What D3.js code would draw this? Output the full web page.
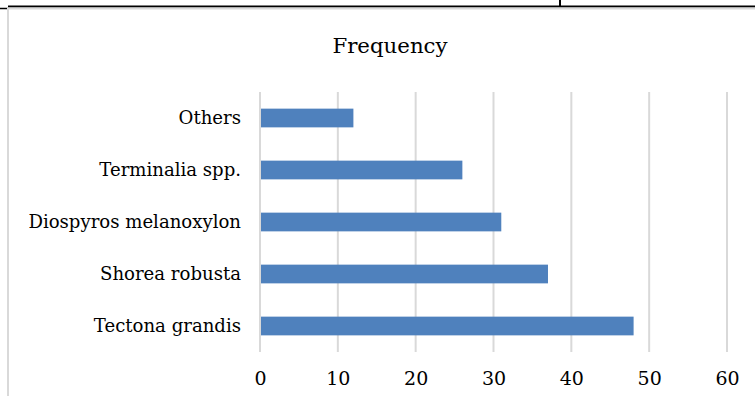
<!DOCTYPE html>
<html>
<head>
<meta charset="utf-8">
<script src="https://cdn.jsdelivr.net/npm/d3@7"></script>
<style>
  html, body { margin: 0; padding: 0; background: #fff; }
  svg { display: block; }
  text { font-family: "DejaVu Serif", "Liberation Serif", serif; fill: #000; }
</style>
</head>
<body>
<svg id="chart" width="755" height="396"></svg>
<script>
// Species counts
const categories = ["Tectona grandis", "Shorea robusta", "Diospyros melanoxylon", "Terminalia spp.", "Others"];
const frequency = [48, 37, 31, 26, 12];
const xTicks = [0, 10, 20, 30, 40, 50, 60];
const title = "Frequency";

const svg = d3.select("#chart");
const W = 755, H = 396;
const FONT = '"DejaVu Serif", "Liberation Serif", serif';

// Surrounding page/table lines
svg.append("line").attr("x1", 8).attr("x2", W).attr("y1", 6.5).attr("y2", 6.5)
  .attr("stroke", "#000").attr("stroke-width", 2);
svg.append("line").attr("x1", 560).attr("x2", 560).attr("y1", 0).attr("y2", 6)
  .attr("stroke", "#000").attr("stroke-width", 2);
svg.append("line").attr("x1", 0).attr("x2", 8).attr("y1", 8.5).attr("y2", 8.5)
  .attr("stroke", "#000").attr("stroke-width", 1.5);

// Chart frame
svg.append("path").attr("d", `M8,${H} V8.5 H${W}`)
  .attr("fill", "none").attr("stroke", "#d9d9d9").attr("stroke-width", 2);

const plot = { left: 260, right: 727, top: 92, bottom: 352 };

const x = d3.scaleLinear().domain([0, 60]).range([plot.left, plot.right]);
const y = d3.scaleBand().domain(categories).range([plot.bottom, plot.top]).paddingInner(0.64).paddingOuter(0.32);

// Vertical gridlines
svg.append("g")
  .selectAll("line").data(xTicks).join("line")
  .attr("x1", d => x(d)).attr("x2", d => x(d))
  .attr("y1", plot.top).attr("y2", plot.bottom)
  .attr("stroke", "#d9d9d9").attr("stroke-width", 2);

// Bars
svg.append("g")
  .selectAll("rect").data(categories).join("rect")
  .attr("x", x(0) + 1)
  .attr("y", d => y(d))
  .attr("width", (d, i) => x(frequency[i]) - x(0) - 1)
  .attr("height", y.bandwidth())
  .attr("fill", "#4f81bd");

// X axis labels
const xAxis = d3.axisBottom(x).tickValues(xTicks).tickSize(0).tickPadding(20);
const gx = svg.append("g").attr("transform", `translate(0,${plot.bottom})`).call(xAxis);
gx.select(".domain").remove();
gx.selectAll("text").style("font-family", FONT).style("font-size", "19px").attr("fill", "#000");

// Y axis labels
const yAxis = d3.axisLeft(y).tickSize(0).tickPadding(19);
const gy = svg.append("g").attr("transform", `translate(${plot.left},0)`).call(yAxis);
gy.select(".domain").remove();
gy.selectAll("text").style("font-family", FONT).style("font-size", "18.1px").attr("fill", "#000");

// Title
svg.append("text").attr("x", 390).attr("y", 53).attr("text-anchor", "middle")
  .style("font-size", "21.3px").text(title);
</script>
</body>
</html>
